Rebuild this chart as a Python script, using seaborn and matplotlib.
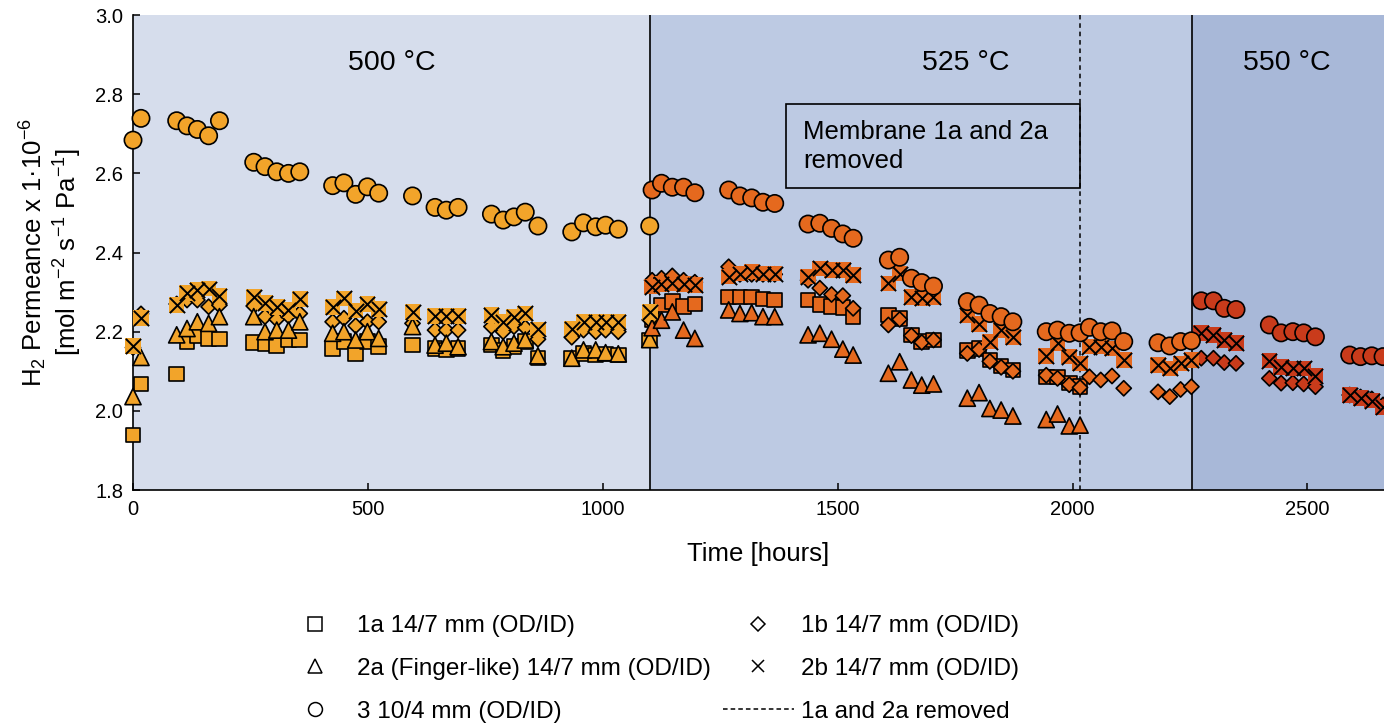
import numpy as np
import pandas as pd
import matplotlib
matplotlib.use("Agg")
import matplotlib.pyplot as plt
from matplotlib.lines import Line2D
import seaborn as sns

# ---- measurement times [hours] per furnace temperature ----
t_500 = [0, 17, 93, 115, 137, 161, 184, 257, 281, 306, 331, 355, 425, 449, 474,
         499, 523, 595, 643, 667, 692, 763, 788, 811, 835, 862, 934, 959, 985,
         1006, 1033, 1100]
t_525 = [1105, 1125, 1148, 1172, 1196, 1268, 1292, 1317, 1341, 1366, 1437, 1462,
         1487, 1511, 1533, 1608, 1632, 1657, 1679, 1704, 1776, 1801, 1824, 1848,
         1873, 1944, 1968, 1993, 2016, 2036, 2060, 2084, 2109, 2182, 2207, 2230,
         2253]
t_550 = [2274, 2300, 2323, 2348, 2419, 2444, 2469, 2492, 2517, 2590, 2613, 2637,
         2661]

# ---- H2 permeance [1e-6 mol m-2 s-1 Pa-1] ----
m1a_500 = [1.939, 2.068, 2.093, 2.175, 2.190, 2.183, 2.181, 2.172, 2.169, 2.165,
           2.179, 2.179, 2.158, 2.175, 2.144, 2.175, 2.162, 2.166, 2.158, 2.154,
           2.158, 2.166, 2.152, 2.162, 2.175, 2.134, 2.133, 2.145, 2.141, 2.144,
           2.141, 2.179]
m1a_525 = [2.229, 2.267, 2.276, 2.263, 2.270, 2.288, 2.288, 2.288, 2.283, 2.280,
           2.280, 2.269, 2.263, 2.261, 2.238, 2.242, 2.234, 2.192, 2.175, 2.179,
           2.152, 2.158, 2.128, 2.113, 2.103, 2.086, 2.086, 2.070, 2.061]

m2a_500 = [2.036, 2.135, 2.192, 2.208, 2.225, 2.221, 2.238, 2.238, 2.200, 2.204,
           2.204, 2.225, 2.196, 2.200, 2.179, 2.200, 2.183, 2.213, 2.166, 2.171,
           2.162, 2.175, 2.162, 2.171, 2.179, 2.139, 2.133, 2.154, 2.154, 2.147,
           2.144, 2.180]
m2a_525 = [2.210, 2.229, 2.250, 2.204, 2.183, 2.255, 2.246, 2.248, 2.238, 2.238,
           2.192, 2.196, 2.181, 2.156, 2.141, 2.095, 2.124, 2.078, 2.065, 2.068,
           2.032, 2.046, 2.006, 2.002, 1.987, 1.978, 1.992, 1.962, 1.964]

m1b_500 = [2.160, 2.245, 2.270, 2.280, 2.280, 2.263, 2.267, 2.265, 2.238, 2.231,
           2.240, 2.246, 2.225, 2.234, 2.215, 2.225, 2.225, 2.221, 2.204, 2.204,
           2.204, 2.213, 2.200, 2.213, 2.210, 2.181, 2.186, 2.204, 2.200, 2.204,
           2.200, 2.230]
m1b_525 = [2.330, 2.335, 2.341, 2.330, 2.325, 2.364, 2.345, 2.345, 2.345, 2.345,
           2.330, 2.310, 2.294, 2.291, 2.259, 2.217, 2.231, 2.190, 2.173, 2.179,
           2.145, 2.155, 2.125, 2.110, 2.100, 2.090, 2.082, 2.066, 2.059, 2.086,
           2.078, 2.088, 2.057, 2.048, 2.036, 2.054, 2.061]
m1b_550 = [2.133, 2.133, 2.122, 2.120, 2.082, 2.070, 2.071, 2.068, 2.061, 2.040,
           2.035, 2.030, 2.015]

m2b_500 = [2.164, 2.235, 2.267, 2.298, 2.305, 2.309, 2.290, 2.288, 2.272, 2.263,
           2.255, 2.283, 2.262, 2.284, 2.253, 2.270, 2.257, 2.250, 2.240, 2.240,
           2.240, 2.242, 2.225, 2.238, 2.246, 2.206, 2.208, 2.225, 2.225, 2.225,
           2.225, 2.250]
m2b_525 = [2.314, 2.320, 2.322, 2.320, 2.318, 2.339, 2.347, 2.352, 2.347, 2.347,
           2.339, 2.360, 2.356, 2.356, 2.343, 2.322, 2.347, 2.288, 2.284, 2.288,
           2.242, 2.220, 2.175, 2.204, 2.186, 2.139, 2.171, 2.137, 2.120, 2.162,
           2.162, 2.158, 2.128, 2.116, 2.107, 2.120, 2.128]
m2b_550 = [2.197, 2.192, 2.179, 2.171, 2.127, 2.111, 2.107, 2.107, 2.088, 2.040,
           2.032, 2.026, 2.009]

m3_500 = [2.684, 2.739, 2.733, 2.720, 2.711, 2.695, 2.733, 2.628, 2.617, 2.604,
          2.600, 2.604, 2.569, 2.576, 2.547, 2.566, 2.550, 2.543, 2.514, 2.507,
          2.514, 2.497, 2.482, 2.490, 2.502, 2.467, 2.452, 2.475, 2.465, 2.469,
          2.459, 2.467]
m3_525 = [2.558, 2.575, 2.565, 2.565, 2.551, 2.558, 2.543, 2.538, 2.527, 2.524,
          2.472, 2.474, 2.461, 2.447, 2.436, 2.381, 2.388, 2.335, 2.324, 2.315,
          2.276, 2.267, 2.246, 2.238, 2.225, 2.200, 2.204, 2.196, 2.197, 2.211,
          2.200, 2.202, 2.175, 2.172, 2.164, 2.175, 2.177]
m3_550 = [2.278, 2.278, 2.259, 2.256, 2.217, 2.197, 2.200, 2.197, 2.187, 2.141,
          2.137, 2.139, 2.137]

labels = {
    "1a": "1a 14/7 mm (OD/ID)",
    "1b": "1b 14/7 mm (OD/ID)",
    "2a": "2a (Finger-like) 14/7 mm (OD/ID)",
    "2b": "2b 14/7 mm (OD/ID)",
    "3": "3 10/4 mm (OD/ID)",
}
temp_labels = ["500 °C", "525 °C", "550 °C"]
t_change = [1100, 2255]
t_removed = 2016


def series(name, v500, v525, v550=()):
    parts = []
    for t, v, temp in ((t_500, v500, "500"), (t_525, v525, "525"), (t_550, v550, "550")):
        n = len(v)
        parts.append(pd.DataFrame({"time": t[:n], "perm": v,
                                   "temp": temp, "membrane": name}))
    return pd.concat(parts, ignore_index=True)


df = pd.concat([
    series("1a", m1a_500, m1a_525),
    series("1b", m1b_500, m1b_525, m1b_550),
    series("2a", m2a_500, m2a_525),
    series("2b", m2b_500, m2b_525, m2b_550),
    series("3", m3_500, m3_525, m3_550),
], ignore_index=True)

palette = {"500": "#F2A42A", "525": "#E5691E", "550": "#C93B1B"}
band_colors = ["#D6DDEC", "#BDCAE3", "#A8B8D8"]

sns.set_theme(style="white")
plt.rcParams["font.family"] = ["Liberation Sans", "DejaVu Sans"]
plt.rcParams["mathtext.fontset"] = "custom"
plt.rcParams["mathtext.rm"] = "Liberation Sans"
plt.rcParams["mathtext.it"] = "Liberation Sans"
for key in ["text.color", "axes.labelcolor", "xtick.color", "ytick.color"]:
    plt.rcParams[key] = "black"

fig = plt.figure(figsize=(13.84, 7.24), dpi=100)
ax = fig.add_axes([0.0961, 0.3232, 0.9039, 0.656])

xmax = 2663
ax.set_xlim(0, xmax)
ax.set_ylim(1.8, 3.0)

# temperature bands
edges = [0] + t_change + [xmax]
for i in range(3):
    ax.axvspan(edges[i], edges[i + 1], color=band_colors[i], lw=0, zorder=0)
for tc in t_change:
    ax.axvline(tc, color="black", lw=1.2, zorder=1)
ax.axvline(t_removed, color="black", lw=1.1, ls=(0, (3, 2.5)), zorder=1)

styles = {
    "1a": dict(marker="s", s=110),
    "1b": dict(marker="D", s=60),
    "2a": dict(marker="^", s=135),
}
z = 3
for name in ["1a", "1b", "2a"]:
    sub = df[df.membrane == name]
    sns.scatterplot(data=sub, x="time", y="perm", hue="temp", palette=palette,
                    edgecolor="black", linewidth=1.2, legend=False, ax=ax,
                    zorder=z, clip_on=False, **styles[name])
    z += 1

# 2b: coloured square behind a black cross
sub = df[df.membrane == "2b"]
sns.scatterplot(data=sub, x="time", y="perm", hue="temp", palette=palette,
                marker="s", s=125, linewidth=0, legend=False, ax=ax,
                zorder=z, clip_on=False)
ax.scatter(sub["time"], sub["perm"], marker="x", s=120, c="black",
           linewidths=1.4, zorder=z + 1, clip_on=False)
z += 2

sub = df[df.membrane == "3"]
sns.scatterplot(data=sub, x="time", y="perm", hue="temp", palette=palette,
                marker="o", s=155, edgecolor="black", linewidth=1.2,
                legend=False, ax=ax, zorder=z, clip_on=False)

# temperature labels
centers = [550, 1773, 2457]
for c, lab in zip(centers, temp_labels):
    ax.text(c, 2.88, lab, ha="center", va="center", fontsize=20.5, zorder=10)

# annotation box
ax.text(1427, 2.668, "Membrane 1a and 2a\nremoved", ha="left", va="center",
        fontsize=18.5, linespacing=1.25, zorder=10)
ax.add_patch(plt.Rectangle((1389, 2.563), t_removed - 1389, 2.775 - 2.563,
                           fill=False, edgecolor="black", lw=1.2, zorder=9))

ax.set_xticks([0, 500, 1000, 1500, 2000, 2500])
ax.set_yticks(np.round(np.arange(1.8, 3.01, 0.2), 1))
ax.yaxis.set_major_formatter(matplotlib.ticker.FormatStrFormatter("%.1f"))
ax.tick_params(axis="both", direction="in", length=5, width=1.1,
               labelsize=14.5, color="black", left=True, bottom=True, pad=7)
for side in ["top", "right"]:
    ax.spines[side].set_visible(False)
for side in ["left", "bottom"]:
    ax.spines[side].set_color("black")
    ax.spines[side].set_linewidth(1.2)

ax.set_xlabel("Time [hours]", fontsize=18.5, labelpad=17)
ax.set_ylabel("H$_2$ Permeance x 1·10$^{-6}$\n"
              "[mol m$^{-2}$ s$^{-1}$ Pa$^{-1}$]", fontsize=18.5, labelpad=8,
              linespacing=1.1)

# legend
def mk(m, ms):
    return Line2D([], [], ls="none", marker=m, markersize=ms,
                  markerfacecolor="white", markeredgecolor="black",
                  markeredgewidth=1.1)

handles = [mk("s", 10), mk("^", 10), mk("o", 10),
           mk("D", 7), mk("x", 9),
           Line2D([], [], color="black", lw=1.1, ls=(0, (3, 2)))]
hlabels = [labels["1a"], labels["2a"], labels["3"],
           labels["1b"], labels["2b"], "1a and 2a removed"]
fig.legend(handles, hlabels, loc="center", bbox_to_anchor=(0.469, 0.076),
           ncol=2, frameon=False, fontsize=17.5, handlelength=2.9,
           handletextpad=0.3, columnspacing=0.5, labelspacing=0.85)

fig.savefig("out.png", dpi=100)
